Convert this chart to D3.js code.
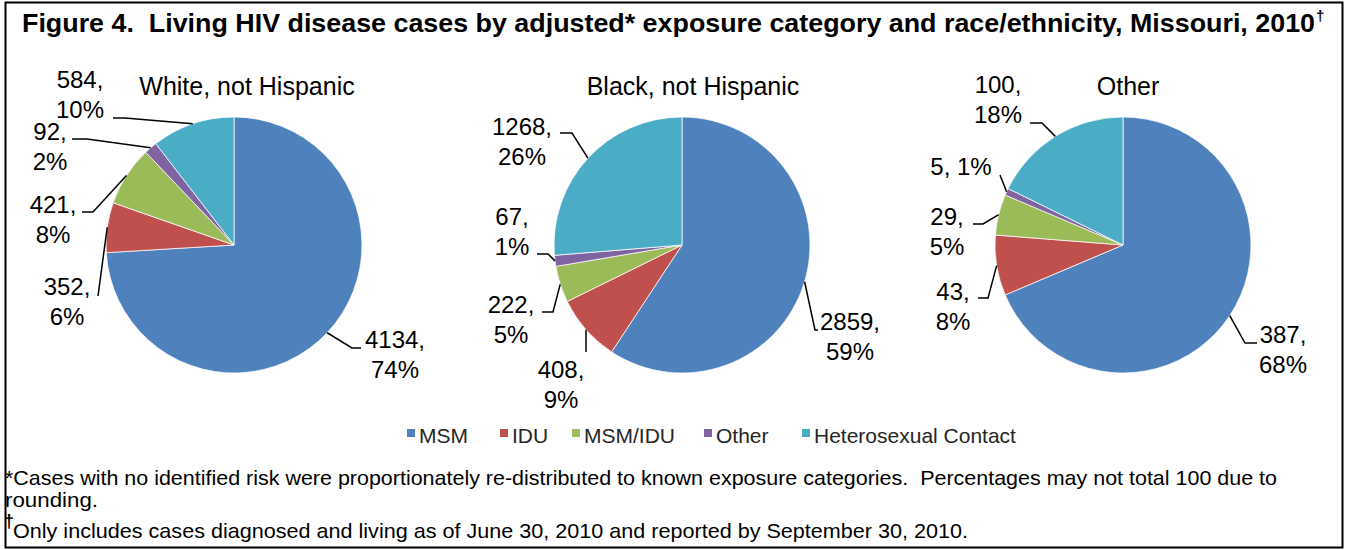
<!DOCTYPE html>
<html>
<head>
<meta charset="utf-8">
<script src="https://cdn.jsdelivr.net/npm/d3@7"></script>
<style>
  body { margin: 0; background: #fff; }
  text { font-family: "Liberation Sans", Arial, sans-serif; white-space: pre; }
</style>
</head>
<body>
<svg id="chart" width="1347" height="550"></svg>
<script>
// Exposure categories (slice order, clockwise from 12 o'clock)
const categories = ["MSM", "IDU", "MSM/IDU", "Other", "Heterosexual Contact"];
const groups = ["White, not Hispanic", "Black, not Hispanic", "Other"];

// Living cases and rounded percentages per race/ethnicity group
const whiteCases = [4134, 352, 421, 92, 584];
const whitePct   = [74, 6, 8, 2, 10];
const blackCases = [2859, 408, 222, 67, 1268];
const blackPct   = [59, 9, 5, 1, 26];
const otherCases = [387, 43, 29, 5, 100];
const otherPct   = [68, 8, 5, 1, 18];

const colors = ["#4F81BD", "#C0504D", "#9BBB59", "#8064A2", "#4BACC6"];

const titleText = "Figure 4.  Living HIV disease cases by adjusted* exposure category and race/ethnicity, Missouri, 2010";
const noteLine1 = "*Cases with no identified risk were proportionately re-distributed to known exposure categories.  Percentages may not total 100 due to";
const noteLine2 = "rounding.";
const noteLine3 = "Only includes cases diagnosed and living as of June 30, 2010 and reported by September 30, 2010.";

// ---- layout ----
const pieCx = [234, 682, 1123];
const pieCy = 245;
const R = 128;

// label placement per slice: text centre x, first baseline y, leader knee and end
const labelLayout = [
  [ {tx: 395, ty: 348, knee: [352, 348], end: [361, 348]},
    {tx: 67,  ty: 295, knee: [98, 296],  end: [98, 296]},
    {tx: 53,  ty: 213, knee: [93, 212],  end: [82, 212]},
    {tx: 50,  ty: 140, knee: [87, 139],  end: [72, 139]},
    {tx: 80,  ty: 88,  knee: [125, 118], end: [113, 118]} ],
  [ {tx: 850, ty: 330, knee: [815, 330], end: [818, 330]},
    {tx: 561, ty: 378, knee: [586, 352], end: [586, 352]},
    {tx: 511, ty: 313, knee: [553, 312], end: [542, 312]},
    {tx: 512, ty: 225, knee: [548, 254], end: [537, 254]},
    {tx: 522, ty: 135, knee: [572, 133], end: [560, 133]} ],
  [ {tx: 1283, ty: 343, knee: [1245, 343], end: [1257, 343]},
    {tx: 953,  ty: 300, knee: [988, 298],  end: [978, 298]},
    {tx: 947,  ty: 225, knee: [983, 224],  end: [973, 224]},
    {tx: 961,  ty: 175, knee: [1000, 175], end: [1000, 175], oneLine: true},
    {tx: 998,  ty: 93,  knee: [1042, 123], end: [1030, 123]} ]
];
const lineGap = 29.5;

const legendX = [407, 500, 572, 704, 802];
const legendY = 429;

const svg = d3.select("#chart");

// frame
svg.append("rect")
  .attr("x", 5.5).attr("y", 2.5)
  .attr("width", 1337).attr("height", 545)
  .attr("fill", "#fff").attr("stroke", "#000").attr("stroke-width", 2);

// title
svg.append("text")
  .attr("x", 22).attr("y", 32)
  .attr("font-size", 26).attr("font-weight", "bold")
  .attr("textLength", 1293).attr("lengthAdjust", "spacingAndGlyphs")
  .text(titleText);
svg.append("text")
  .attr("x", 1316).attr("y", 21)
  .attr("font-size", 15).attr("font-weight", "bold")
  .text("\u2020");

// pies
const pie = d3.pie().sort(null).value(d => d);
const arc = d3.arc().innerRadius(0).outerRadius(R);
const edge = d3.arc().innerRadius(R).outerRadius(R);
const line = d3.line();

const datasets = [
  {cases: whiteCases, pct: whitePct},
  {cases: blackCases, pct: blackPct},
  {cases: otherCases, pct: otherPct}
];

datasets.forEach((ds, gi) => {
  const cx = pieCx[gi];
  const g = svg.append("g").attr("transform", `translate(${cx},${pieCy})`);
  const arcs = pie(ds.cases);

  g.selectAll("path.slice")
    .data(arcs)
    .join("path")
    .attr("class", "slice")
    .attr("d", arc)
    .attr("fill", (d, i) => colors[i])
    .attr("stroke", "#fff")
    .attr("stroke-width", 0.75);

  // group title
  svg.append("text")
    .attr("x", [247, 693, 1128][gi]).attr("y", 95)
    .attr("text-anchor", "middle")
    .attr("font-size", 25)
    .text(groups[gi]);

  // data labels with leader lines
  arcs.forEach((a, i) => {
    const L = labelLayout[gi][i];
    const [ex, ey] = edge.centroid(a);
    svg.append("path")
      .attr("d", line([[cx + ex, pieCy + ey], L.knee, L.end]))
      .attr("fill", "none")
      .attr("stroke", "#000")
      .attr("stroke-width", 1.5);

    const t = svg.append("text")
      .attr("text-anchor", "middle")
      .attr("font-size", 24)
      .attr("fill", "#000");
    if (L.oneLine) {
      t.append("tspan").attr("x", L.tx).attr("y", L.ty)
        .text(`${ds.cases[i]}, ${ds.pct[i]}%`);
    } else {
      t.append("tspan").attr("x", L.tx).attr("y", L.ty).text(`${ds.cases[i]},`);
      t.append("tspan").attr("x", L.tx).attr("y", L.ty + lineGap).text(`${ds.pct[i]}%`);
    }
  });
});

// legend
const legend = svg.append("g");
categories.forEach((c, i) => {
  legend.append("rect")
    .attr("x", legendX[i]).attr("y", legendY)
    .attr("width", 8).attr("height", 8)
    .attr("fill", colors[i]);
  legend.append("text")
    .attr("x", legendX[i] + 12).attr("y", legendY + 14)
    .attr("font-size", 21)
    .attr("fill", "#262626")
    .text(c);
});

// footnotes (condensed to fit the frame width)
svg.append("text")
  .attr("x", 5).attr("y", 485)
  .attr("font-size", 21)
  .attr("textLength", 1272).attr("lengthAdjust", "spacingAndGlyphs")
  .text(noteLine1);
svg.append("text")
  .attr("x", 5).attr("y", 507)
  .attr("font-size", 21)
  .attr("textLength", 93).attr("lengthAdjust", "spacingAndGlyphs")
  .text(noteLine2);
svg.append("text")
  .attr("x", 4).attr("y", 527)
  .attr("font-size", 18).attr("font-weight", "bold")
  .text("\u2020");
svg.append("text")
  .attr("x", 13).attr("y", 538)
  .attr("font-size", 21)
  .attr("textLength", 955).attr("lengthAdjust", "spacingAndGlyphs")
  .text(noteLine3);
</script>
</body>
</html>
